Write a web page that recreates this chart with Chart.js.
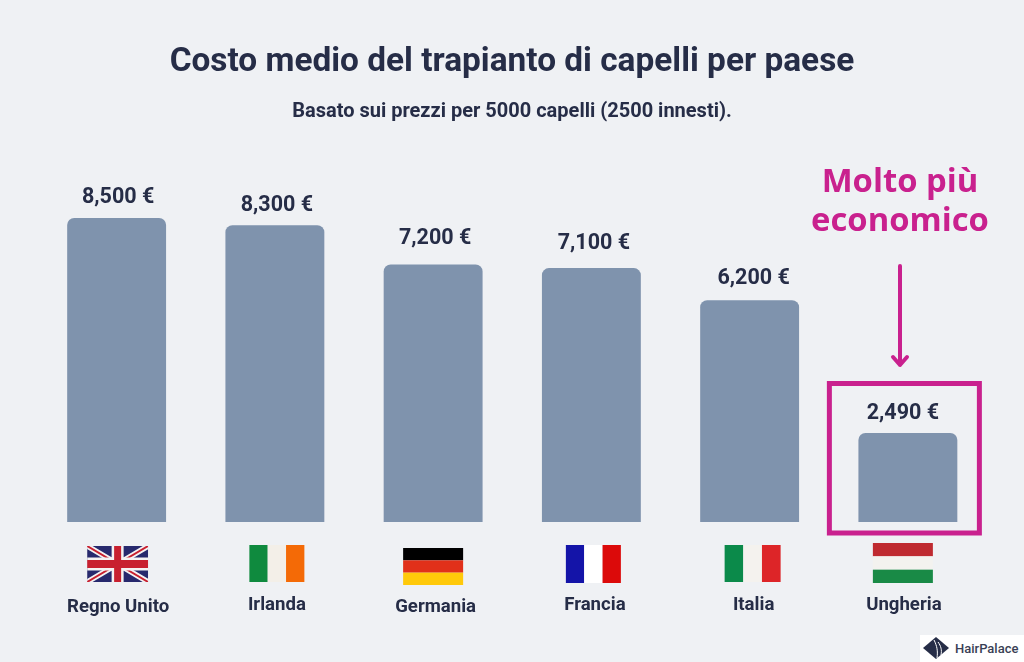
<!DOCTYPE html>
<html lang="it">
<head>
<meta charset="utf-8">
<title>Costo medio del trapianto di capelli per paese</title>
<script src="https://cdn.jsdelivr.net/npm/chart.js@4"></script>
<style>
  html, body { margin: 0; padding: 0; background: #eff1f4; }
  #wrap { position: relative; width: 1024px; height: 662px; overflow: hidden; font-family: Roboto, sans-serif; color: #262d47; }
  #chart { position: absolute; left: 0; top: 0; }
  .txt { position: absolute; text-align: center; white-space: nowrap; }
  #title { left: 0; width: 1024px; top: 40px; font-size: 33.4px; font-weight: 700; line-height: 40px; }
  #subtitle { left: 0; width: 1024px; top: 98px; font-size: 20px; font-weight: 700; line-height: 24px; }
  #callout { left: 790px; width: 220px; top: 160px; font-family: "Open Sans", sans-serif; font-size: 32.8px; font-weight: 700; line-height: 39px; color: #c9218e; }
  #logo { position: absolute; left: 920px; top: 635px; width: 104px; height: 27px; background: #fff; }
  #logo span { position: absolute; left: 35px; top: 5px; font-size: 13px; font-weight: 500; line-height: 18px; color: #3a3f55; }
  #logo svg { position: absolute; left: 2px; top: 1px; }
</style>
</head>
<body>
<div id="wrap">
  <canvas id="chart" width="1024" height="662"></canvas>
  <div class="txt" id="title">Costo medio del trapianto di capelli per paese</div>
  <div class="txt" id="subtitle">Basato sui prezzi per 5000 capelli (2500 innesti).</div>
  <div class="txt" id="callout">Molto più<br>economico</div>
  <div id="logo">
    <svg width="28" height="24" viewBox="0 0 28 24"><path d="M14 1 L27 12 L14 23 L1 12 Z" fill="#262d47"/><path d="M12 4 C15 10 16 15 15 22 M16 6 C19 10 20 14 19 19" stroke="#fff" stroke-width="1" fill="none"/></svg>
    <span>HairPalace</span>
  </div>
</div>

<script>
// ── Data ──────────────────────────────────────────────────────
const countries  = ['Regno Unito', 'Irlanda', 'Germania', 'Francia', 'Italia', 'Ungheria'];
const costs      = [8500, 8300, 7200, 7100, 6200, 2490];
const costLabels = ['8,500 €', '8,300 €', '7,200 €', '7,100 €', '6,200 €', '2,490 €'];

// ── Styling / placement of the things around the bars ─────────
const INK  = '#262d47';
const PINK = '#c9218e';
const BAR  = '#7f93ad';

// offsets from the bar centre, per country
const flagLayout = [
  { dx: 1,  top: 546, w: 61, h: 36, kind: 'uk' },
  { dx: 2,  top: 545, w: 55, h: 37, kind: 'v', colors: ['#0f8a3e', '#f3efe8', '#f46a06'] },
  { dx: 0,  top: 548, w: 60, h: 37, kind: 'h', colors: ['#000000', '#e1301a', '#ffc90a'] },
  { dx: 2,  top: 545, w: 55, h: 38, kind: 'v', colors: ['#1414a8', '#ffffff', '#dc0a0a'] },
  { dx: 3,  top: 545, w: 56, h: 37, kind: 'v', colors: ['#0b8a4a', '#f4f2ee', '#dd2528'] },
  { dx: -5, top: 543, w: 60, h: 40, kind: 'h', colors: ['#bf2a30', '#f3f2ef', '#198a46'] },
];
const nameLayout = [
  { dx: 1.5, y: 607 }, { dx: 2, y: 605 }, { dx: 2.5, y: 607 },
  { dx: 3.5, y: 605 }, { dx: 4, y: 605 }, { dx: -4, y: 605 },
];
const valueLayout = [
  { dx: 1.5, lift: 20 }, { dx: 2, lift: 20 }, { dx: 2, lift: 26 },
  { dx: 2.5, lift: 24 }, { dx: 4, lift: 22 }, { dx: -5, lift: 19 },
];

function drawUnionJack(ctx, x, y, w, h) {
  ctx.save();
  ctx.beginPath();
  ctx.rect(x, y, w, h);
  ctx.clip();
  ctx.fillStyle = '#27296d';
  ctx.fillRect(x, y, w, h);
  const diag = (width, color) => {
    ctx.strokeStyle = color;
    ctx.lineWidth = width;
    ctx.beginPath();
    ctx.moveTo(x, y); ctx.lineTo(x + w, y + h);
    ctx.moveTo(x + w, y); ctx.lineTo(x, y + h);
    ctx.stroke();
  };
  diag(5.5, '#f4f2f2');
  diag(2, '#c8202f');
  ctx.fillStyle = '#f4f2f2';
  ctx.fillRect(x + w / 2 - 6, y, 12, h);
  ctx.fillRect(x, y + h / 2 - 6.5, w, 13);
  ctx.fillStyle = '#c8202f';
  ctx.fillRect(x + w / 2 - 3.5, y, 7, h);
  ctx.fillRect(x, y + h / 2 - 4, w, 8);
  ctx.restore();
}

function drawFlag(ctx, cx, f) {
  const x = cx + f.dx - f.w / 2;
  if (f.kind === 'uk') return drawUnionJack(ctx, x, f.top, f.w, f.h);
  f.colors.forEach((color, i) => {
    ctx.fillStyle = color;
    if (f.kind === 'v') ctx.fillRect(x + i * f.w / 3, f.top, f.w / 3, f.h);
    else ctx.fillRect(x, f.top + i * f.h / 3, f.w, f.h / 3);
  });
}

// ── Value labels, flags, country names, pink box and arrow ────
const decorations = {
  id: 'decorations',
  afterDatasetsDraw(chart) {
    const { ctx, scales: { x, y } } = chart;
    ctx.save();
    ctx.textAlign = 'center';
    ctx.textBaseline = 'middle';
    ctx.fillStyle = INK;

    ctx.font = '700 21.5px Roboto, sans-serif';
    costs.forEach((value, i) => {
      const pos = valueLayout[i];
      ctx.fillText(costLabels[i], x.getPixelForValue(i) + pos.dx, y.getPixelForValue(value) - pos.lift);
    });

    countries.forEach((name, i) => {
      const cx = x.getPixelForValue(i);
      drawFlag(ctx, cx, flagLayout[i]);
      ctx.fillStyle = INK;
      ctx.font = '700 18.6px Roboto, sans-serif';
      ctx.fillText(name, cx + nameLayout[i].dx, nameLayout[i].y);
    });

    // highlight around the cheapest country
    const last = x.getPixelForValue(costs.length - 1);
    ctx.strokeStyle = PINK;
    ctx.lineWidth = 5;
    ctx.strokeRect(last - 78.5, 383.5, 150, 149.5);

    ctx.lineWidth = 4;
    ctx.lineCap = 'round';
    ctx.lineJoin = 'round';
    ctx.beginPath();
    ctx.moveTo(900, 266);
    ctx.lineTo(900, 365);
    ctx.moveTo(893, 357);
    ctx.lineTo(900, 365);
    ctx.lineTo(907, 357);
    ctx.stroke();
    ctx.restore();
  },
};

new Chart(document.getElementById('chart').getContext('2d'), {
  type: 'bar',
  data: {
    labels: countries,
    datasets: [{
      data: costs,
      backgroundColor: BAR,
      borderRadius: { topLeft: 7, topRight: 7 },
      borderSkipped: 'bottom',
      barPercentage: 1,
      categoryPercentage: 0.625,
    }],
  },
  options: {
    responsive: false,
    animation: false,
    devicePixelRatio: 1,
    layout: { padding: { left: 37.5, right: 37, top: 164.4, bottom: 140 } },
    plugins: { legend: { display: false }, tooltip: { enabled: false } },
    scales: {
      x: { display: false },
      y: { display: false, beginAtZero: true, min: 0, max: 10000 },
    },
  },
  plugins: [decorations],
});
</script>
</body>
</html>
